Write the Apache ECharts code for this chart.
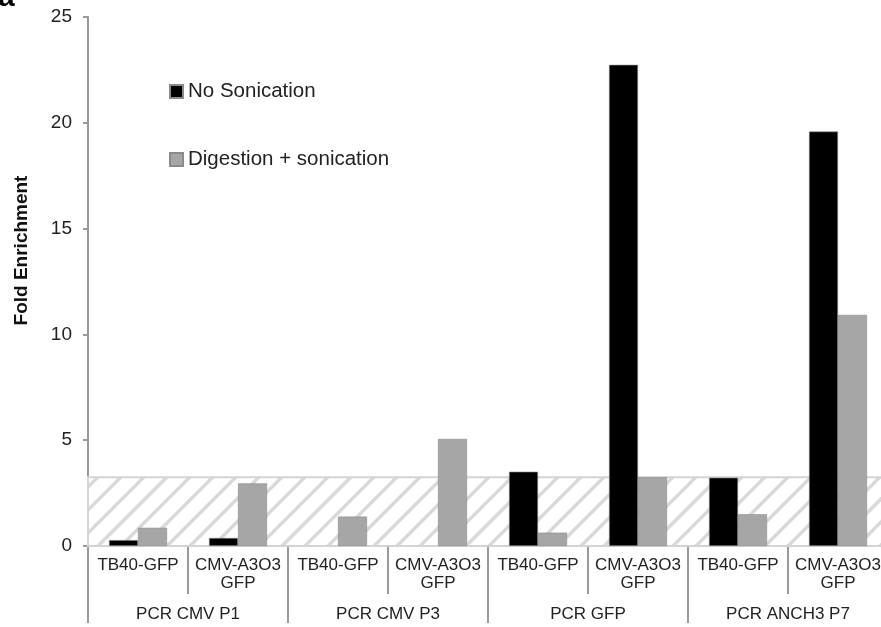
<!DOCTYPE html>
<html>
<head>
<meta charset="utf-8">
<script src="https://cdn.jsdelivr.net/npm/echarts@6/dist/echarts.min.js"></script>
<style>
html,body{margin:0;padding:0;background:#fff;}
#chart{width:881px;height:627px;}
</style>
</head>
<body>
<div id="chart"></div>
<script>
var categories = ['TB40-GFP', 'CMV-A3O3\nGFP', 'TB40-GFP', 'CMV-A3O3\nGFP', 'TB40-GFP', 'CMV-A3O3\nGFP', 'TB40-GFP', 'CMV-A3O3\nGFP'];
var groups = ['PCR CMV P1', 'PCR CMV P3', 'PCR GFP', 'PCR ANCH3 P7'];
var noSonication = [0.28, 0.38, null, null, 3.51, 22.74, 3.23, 19.59];
var digestionSonication = [0.86, 2.96, 1.39, 5.06, 0.63, 3.25, 1.50, 10.92];
var thresholdBand = [0, 3.25];
var yTicks = {min: 0, max: 25, interval: 5};

var chart = echarts.init(document.getElementById('chart'), null, {renderer: 'canvas'});

var tile = document.createElement('canvas');
var s = 23;
tile.width = s; tile.height = s;
var ctx = tile.getContext('2d');
ctx.fillStyle = '#ffffff';
ctx.fillRect(0, 0, s, s);
ctx.strokeStyle = '#d9d9d9';
ctx.lineWidth = 3.4;
ctx.beginPath();
ctx.moveTo(-2, s + 2); ctx.lineTo(s + 2, -2);
ctx.moveTo(-2 - s, s + 2); ctx.lineTo(2, -2);
ctx.moveTo(s - 2, s + 2); ctx.lineTo(2 * s + 2, -2);
ctx.stroke();

var axisGray = '#9a9a9a';
var font = 'Liberation Sans, Arial, sans-serif';

var option = {
  animation: false,
  backgroundColor: '#ffffff',
  grid: {left: 88, top: 17, right: -7, bottom: 81, containLabel: false, outerBoundsMode: 'none'},
  legend: {
    orient: 'vertical',
    left: 164, top: 76,
    itemWidth: 13, itemHeight: 13,
    itemGap: 47,
    icon: 'rect',
    textStyle: {fontFamily: font, fontSize: 20.5, color: '#222'},
    data: ['No Sonication', 'Digestion + sonication']
  },
  graphic: [{
    type: 'text', left: -2, top: -17,
    style: {text: 'a', font: 'bold 30px ' + font, fill: '#000'}
  }, {
    type: 'text', x: 21.5, y: 250.5, rotation: Math.PI / 2,
    style: {text: 'Fold Enrichment', font: 'bold 19px ' + font, fill: '#111', align: 'center', verticalAlign: 'middle'}
  }],
  xAxis: [{
    type: 'category',
    data: categories,
    position: 'bottom',
    axisLine: {show: true, lineStyle: {color: axisGray, width: 2}},
    axisTick: {show: true, length: 48, interval: 0, lineStyle: {color: axisGray, width: 2}},
    axisLabel: {interval: 0, margin: 10, fontFamily: font, fontSize: 17, color: '#222', lineHeight: 18}
  }, {
    type: 'category',
    data: groups,
    position: 'bottom',
    axisLine: {show: false},
    axisTick: {show: true, length: 77, interval: 0, lineStyle: {color: axisGray, width: 2}},
    axisLabel: {interval: 0, margin: 60, fontFamily: font, fontSize: 17, color: '#222'}
  }],
  yAxis: {
    type: 'value',
    min: yTicks.min, max: yTicks.max, interval: yTicks.interval,
    axisLine: {show: true, lineStyle: {color: axisGray, width: 2}},
    axisTick: {show: true, length: 5, lineStyle: {color: axisGray, width: 2}},
    axisLabel: {margin: 16, fontFamily: font, fontSize: 19, color: '#222'},
    splitLine: {show: false}
  },
  series: [{
    name: 'band',
    type: 'line',
    data: [],
    z: 1,
    silent: true,
    markArea: {
      silent: true,
      itemStyle: {color: {image: tile, repeat: 'repeat'}, borderColor: '#d4d4d4', borderWidth: 2},
      data: [[{yAxis: thresholdBand[0]}, {yAxis: thresholdBand[1]}]]
    }
  }, {
    name: 'No Sonication',
    type: 'bar',
    data: noSonication,
    z: 3,
    barWidth: '29%',
    barGap: '0%',
    itemStyle: {color: '#000000', borderColor: '#8a8a8a', borderWidth: 0.6}
  }, {
    name: 'Digestion + sonication',
    type: 'bar',
    data: digestionSonication,
    z: 3,
    barWidth: '29%',
    barGap: '0%',
    itemStyle: {color: '#a6a6a6', borderColor: '#8a8a8a', borderWidth: 0.6}
  }]
};
chart.setOption(option);
</script>
</body>
</html>
